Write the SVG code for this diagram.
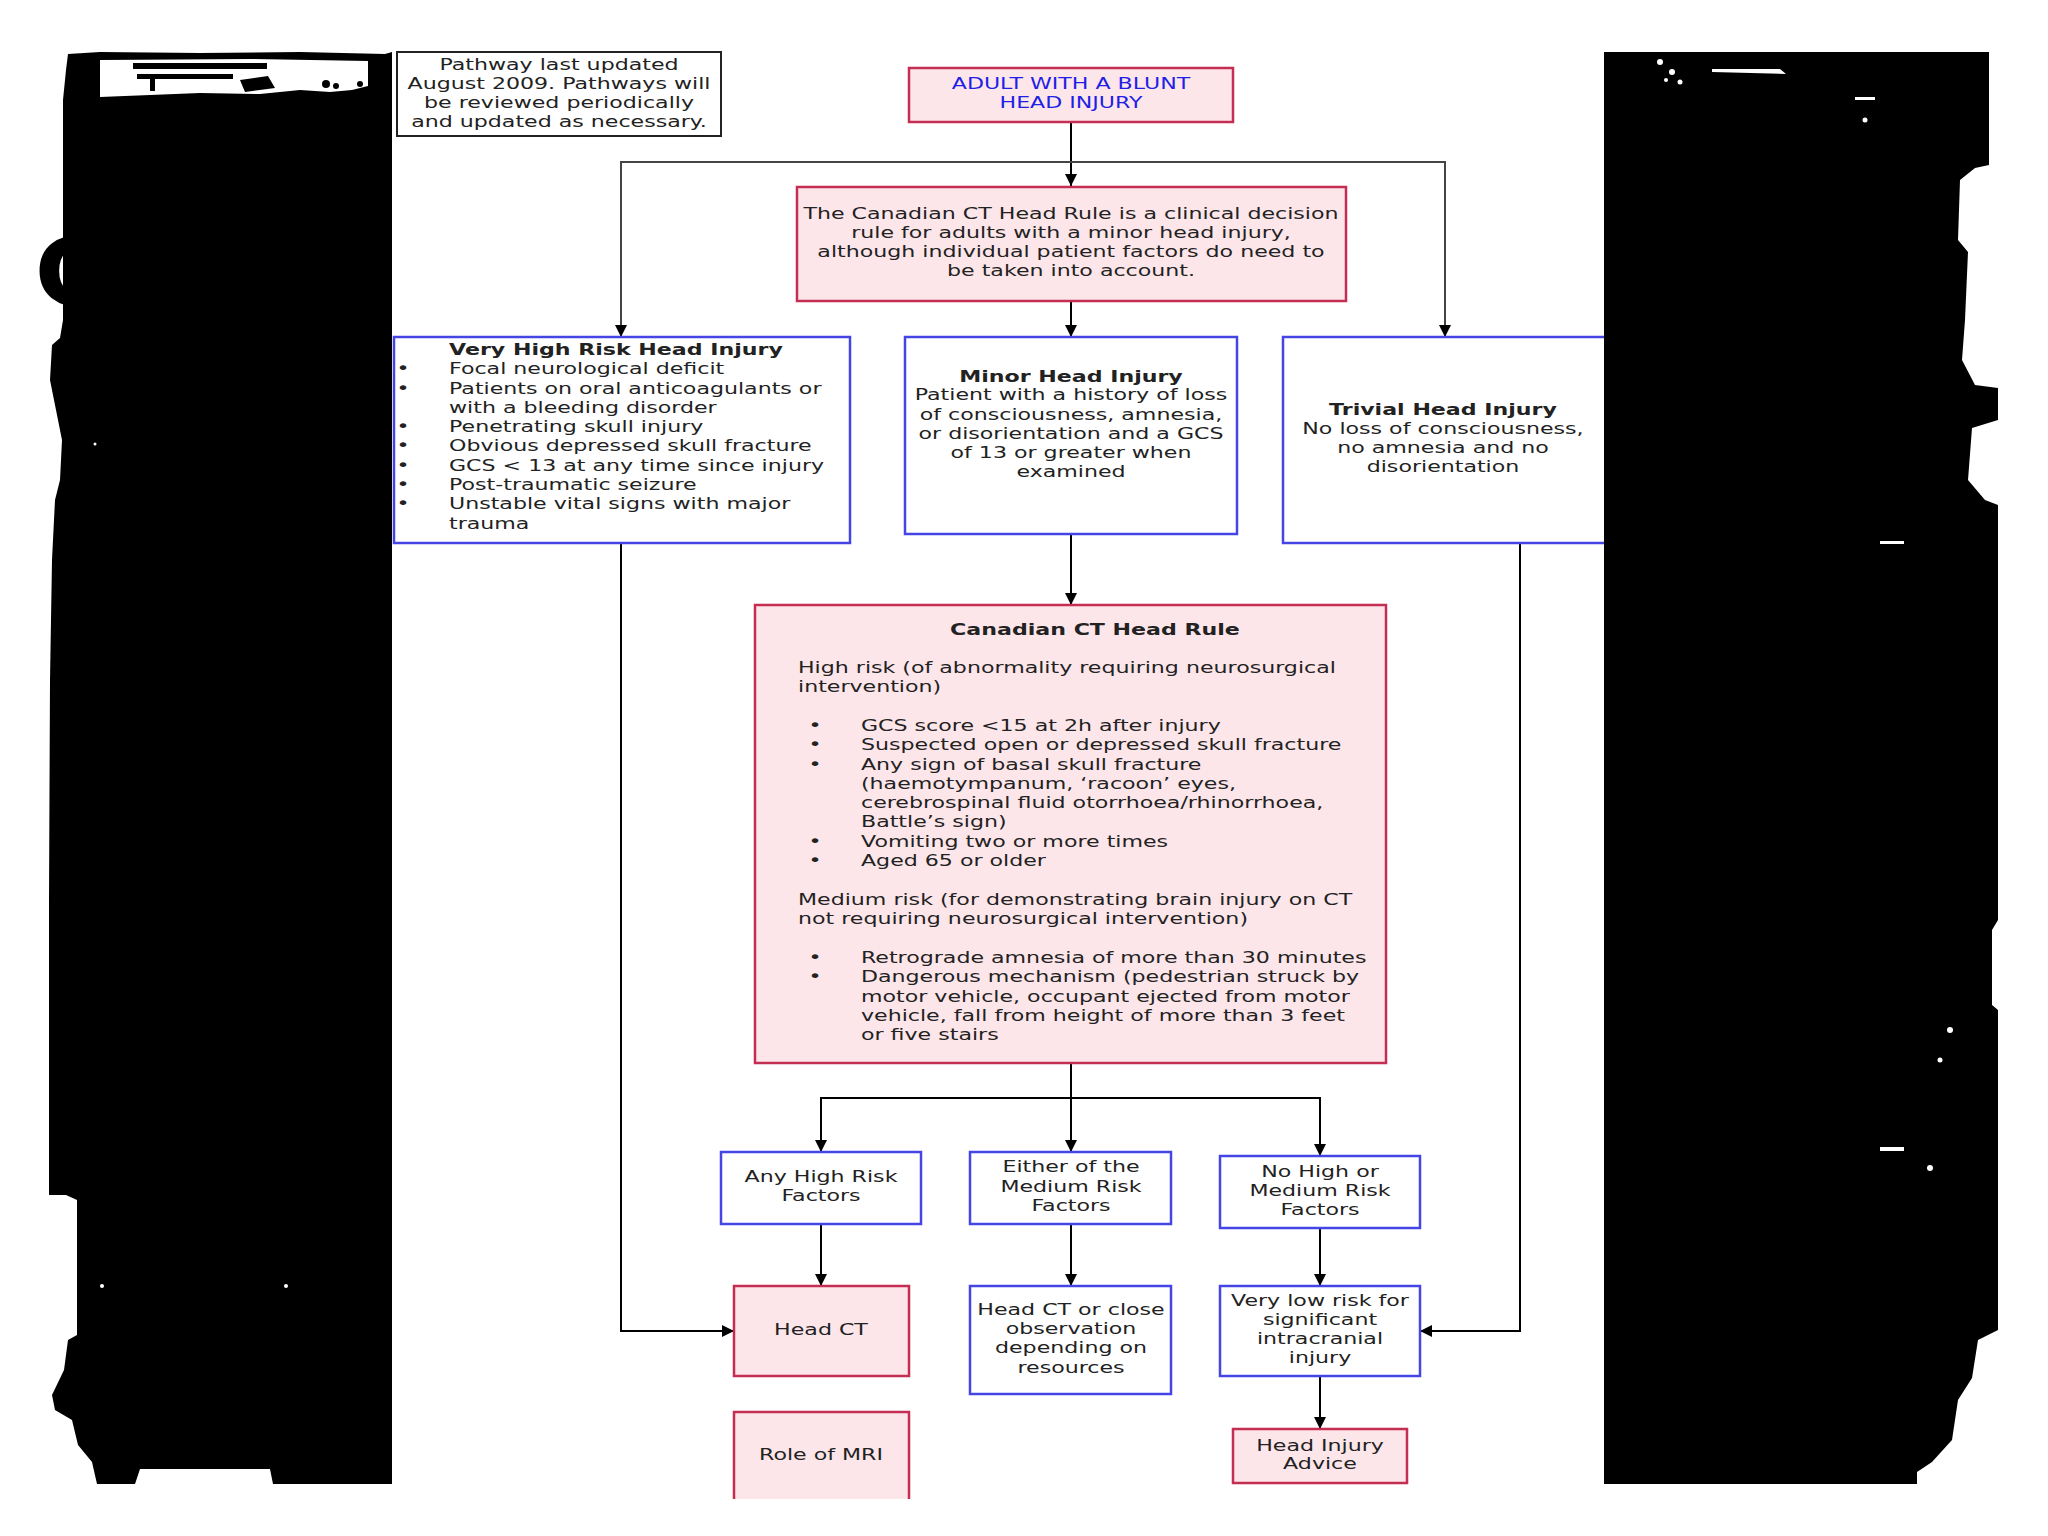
<svg xmlns="http://www.w3.org/2000/svg" width="2048" height="1536" viewBox="0 0 2048 1536">
<defs>
<style>
.t{font-family:"DejaVu Sans",Verdana,"Liberation Sans",sans-serif;font-size:16.5px;fill:#222}
.b{font-weight:bold}
.c{text-anchor:middle}
.blue{fill:#1f1fe6}
.pink{fill:#fde6ea;stroke:#c42e52;stroke-width:2.5}
.bx{fill:#ffffff;stroke:#4545e6;stroke-width:2.5}
.note{fill:#ffffff;stroke:#222;stroke-width:2}
.ln{fill:none;stroke:#000;stroke-width:2;marker-end:url(#ah)}
.grunge{fill:#000}
.spk{fill:#fff}
</style>
<marker id="ah" viewBox="0 0 10 10" refX="10" refY="5" markerWidth="12" markerHeight="12" markerUnits="userSpaceOnUse" orient="auto">
<path d="M0,0 L10,5 L0,10 z" fill="#000"/>
</marker>
</defs>
<rect width="2048" height="1536" fill="#ffffff"/>

<text x="34" y="307" font-family="Liberation Sans,Arial,sans-serif" font-weight="bold" font-size="104" fill="#000" transform="matrix(1.3 0 0 1 -10.2 0)">C</text>

<g id="connectors">
<path class="ln" d="M1071,122 V186"/>
<path class="ln" style="stroke:#444" d="M1071,162 H621 V337"/>
<path class="ln" style="stroke:#444" d="M1071,162 H1445 V337"/>
<path class="ln" d="M1071,301 V337"/>
<path class="ln" d="M1071,534 V605"/>
<path class="ln" d="M621,543 V1331 H734"/>
<path class="ln" d="M1520,543 V1331 H1420"/>
<path class="ln" d="M1071,1063 V1152"/>
<path class="ln" d="M1071,1098 H821 V1152"/>
<path class="ln" d="M1071,1098 H1320 V1156"/>
<path class="ln" d="M821,1224 V1286"/>
<path class="ln" d="M1071,1224 V1286"/>
<path class="ln" d="M1320,1228 V1286"/>
<path class="ln" d="M1320,1376 V1429"/>
</g>

<g id="note">
<rect class="note" x="397" y="52" width="324" height="84"/>
<g transform="matrix(1.34 0 0 1 -190.06 0)">
<text class="t c" x="559" y="70">Pathway last updated</text>
<text class="t c" x="559" y="89">August 2009. Pathways will</text>
<text class="t c" x="559" y="108">be reviewed periodically</text>
<text class="t c" x="559" y="127">and updated as necessary.</text>
</g>
</g>

<g id="adult">
<rect class="pink" x="909" y="68" width="324" height="54"/>
<g transform="matrix(1.34 0 0 1 -364.14 0)">
<text class="t c blue" x="1071" y="89">ADULT WITH A BLUNT</text>
<text class="t c blue" x="1071" y="108">HEAD INJURY</text>
</g>
</g>

<g id="intro">
<rect class="pink" x="797" y="187" width="549" height="114"/>
<g transform="matrix(1.34 0 0 1 -364.14 0)">
<text class="t c" x="1071" y="219">The Canadian CT Head Rule is a clinical decision</text>
<text class="t c" x="1071" y="238">rule for adults with a minor head injury,</text>
<text class="t c" x="1071" y="257">although individual patient factors do need to</text>
<text class="t c" x="1071" y="276">be taken into account.</text>
</g>
</g>

<g id="very-high-risk">
<rect class="bx" x="394" y="337" width="456" height="206"/>
<g transform="matrix(1.34 0 0 1 -152.66 0)">
<text class="t b" x="449" y="355">Very High Risk Head Injury</text>
<text class="t" x="449" y="374.3">Focal neurological deficit</text>
<text class="t" x="449" y="393.6">Patients on oral anticoagulants or</text>
<text class="t" x="449" y="412.9">with a bleeding disorder</text>
<text class="t" x="449" y="432.2">Penetrating skull injury</text>
<text class="t" x="449" y="451.5">Obvious depressed skull fracture</text>
<text class="t" x="449" y="470.8">GCS &lt; 13 at any time since injury</text>
<text class="t" x="449" y="490.1">Post-traumatic seizure</text>
<text class="t" x="449" y="509.4">Unstable vital signs with major</text>
<text class="t" x="449" y="528.7">trauma</text>
</g>
<g transform="matrix(1.34 0 0 1 -137.02 0)">
<text class="t c" x="403" y="374.3">•</text>
<text class="t c" x="403" y="393.6">•</text>
<text class="t c" x="403" y="432.2">•</text>
<text class="t c" x="403" y="451.5">•</text>
<text class="t c" x="403" y="470.8">•</text>
<text class="t c" x="403" y="490.1">•</text>
<text class="t c" x="403" y="509.4">•</text>
</g>
</g>

<g id="minor">
<rect class="bx" x="905" y="337" width="332" height="197"/>
<g transform="matrix(1.34 0 0 1 -364.14 0)">
<text class="t c b" x="1071" y="382">Minor Head Injury</text>
<text class="t c" x="1071" y="400.5">Patient with a history of loss</text>
<text class="t c" x="1071" y="419.7">of consciousness, amnesia,</text>
<text class="t c" x="1071" y="439">or disorientation and a GCS</text>
<text class="t c" x="1071" y="458">of 13 or greater when</text>
<text class="t c" x="1071" y="477">examined</text>
</g>
</g>

<g id="trivial">
<rect class="bx" x="1283" y="337" width="340" height="206"/>
<g transform="matrix(1.34 0 0 1 -490.62 0)">
<text class="t c b" x="1443" y="415">Trivial Head Injury</text>
<text class="t c" x="1443" y="434">No loss of consciousness,</text>
<text class="t c" x="1443" y="453">no amnesia and no</text>
<text class="t c" x="1443" y="472">disorientation</text>
</g>
</g>

<g id="ct-head-rule">
<rect class="pink" x="755" y="605" width="631" height="458"/>
<g transform="matrix(1.34 0 0 1 -372.3 0)">
<text class="t c b" x="1095" y="635">Canadian CT Head Rule</text>
</g>
<g transform="matrix(1.34 0 0 1 -271.32 0)">
<text class="t" x="798" y="673">High risk (of abnormality requiring neurosurgical</text>
<text class="t" x="798" y="692">intervention)</text>
<text class="t" x="798" y="905">Medium risk (for demonstrating brain injury on CT</text>
<text class="t" x="798" y="924">not requiring neurosurgical intervention)</text>
</g>
<g transform="matrix(1.34 0 0 1 -277.1 0)">
<text class="t c" x="815" y="731">•</text>
<text class="t c" x="815" y="750">•</text>
<text class="t c" x="815" y="770">•</text>
<text class="t c" x="815" y="847">•</text>
<text class="t c" x="815" y="866">•</text>
<text class="t c" x="815" y="963">•</text>
<text class="t c" x="815" y="982">•</text>
</g>
<g transform="matrix(1.34 0 0 1 -292.74 0)">
<text class="t" x="861" y="731">GCS score &lt;15 at 2h after injury</text>
<text class="t" x="861" y="750">Suspected open or depressed skull fracture</text>
<text class="t" x="861" y="770">Any sign of basal skull fracture</text>
<text class="t" x="861" y="789">(haemotympanum, ‘racoon’ eyes,</text>
<text class="t" x="861" y="808">cerebrospinal fluid otorrhoea/rhinorrhoea,</text>
<text class="t" x="861" y="827">Battle’s sign)</text>
<text class="t" x="861" y="847">Vomiting two or more times</text>
<text class="t" x="861" y="866">Aged 65 or older</text>
<text class="t" x="861" y="963">Retrograde amnesia of more than 30 minutes</text>
<text class="t" x="861" y="982">Dangerous mechanism (pedestrian struck by</text>
<text class="t" x="861" y="1002">motor vehicle, occupant ejected from motor</text>
<text class="t" x="861" y="1021">vehicle, fall from height of more than 3 feet</text>
<text class="t" x="861" y="1040">or five stairs</text>
</g>
</g>

<g id="any-high-risk">
<rect class="bx" x="721" y="1152" width="200" height="72"/>
<g transform="matrix(1.34 0 0 1 -279.14 0)">
<text class="t c" x="821" y="1182">Any High Risk</text>
<text class="t c" x="821" y="1201">Factors</text>
</g>
</g>

<g id="either-medium">
<rect class="bx" x="970" y="1152" width="201" height="72"/>
<g transform="matrix(1.34 0 0 1 -364.14 0)">
<text class="t c" x="1071" y="1172">Either of the</text>
<text class="t c" x="1071" y="1192">Medium Risk</text>
<text class="t c" x="1071" y="1211">Factors</text>
</g>
</g>

<g id="no-risk">
<rect class="bx" x="1220" y="1156" width="200" height="72"/>
<g transform="matrix(1.34 0 0 1 -448.8 0)">
<text class="t c" x="1320" y="1177">No High or</text>
<text class="t c" x="1320" y="1196">Medium Risk</text>
<text class="t c" x="1320" y="1215">Factors</text>
</g>
</g>

<g id="head-ct">
<rect class="pink" x="734" y="1286" width="175" height="90"/>
<g transform="matrix(1.34 0 0 1 -279.14 0)">
<text class="t c" x="821" y="1335">Head CT</text>
</g>
</g>

<g id="ct-or-observation">
<rect class="bx" x="970" y="1286" width="201" height="108"/>
<g transform="matrix(1.34 0 0 1 -364.14 0)">
<text class="t c" x="1071" y="1315">Head CT or close</text>
<text class="t c" x="1071" y="1334">observation</text>
<text class="t c" x="1071" y="1353">depending on</text>
<text class="t c" x="1071" y="1373">resources</text>
</g>
</g>

<g id="very-low-risk">
<rect class="bx" x="1220" y="1286" width="200" height="90"/>
<g transform="matrix(1.34 0 0 1 -448.8 0)">
<text class="t c" x="1320" y="1306">Very low risk for</text>
<text class="t c" x="1320" y="1325">significant</text>
<text class="t c" x="1320" y="1344">intracranial</text>
<text class="t c" x="1320" y="1363">injury</text>
</g>
</g>

<g id="advice">
<rect class="pink" x="1233" y="1429" width="174" height="54"/>
<g transform="matrix(1.34 0 0 1 -448.8 0)">
<text class="t c" x="1320" y="1451">Head Injury</text>
<text class="t c" x="1320" y="1469">Advice</text>
</g>
</g>

<g id="mri">
<rect x="734" y="1412" width="175" height="87" fill="#fde6ea"/>
<path d="M734,1499 V1412 H909 V1499" fill="none" stroke="#c42e52" stroke-width="2.5"/>
<g transform="matrix(1.34 0 0 1 -279.14 0)">
<text class="t c" x="821" y="1460">Role of MRI</text>
</g>
</g>

<g id="left-panel">
<path class="grunge" d="M68,54 L100,52 L200,53 L300,52 L385,54 L392,52 L392,1484 L273,1484 L270,1469 L140,1469 L135,1484 L97,1484 L92,1462 L78,1445 L72,1420 L55,1410 L52,1395 L64,1370 L68,1340 L77,1335 L77,1200 L66,1195 L49,1195 L49,900 L50,680 L52,560 L55,500 L60,480 L62,440 L58,420 L50,380 L52,345 L60,338 L63,320 L63,100 L66,70 Z"/>
<path class="spk" d="M100,60 L250,59 L368,61 L368,86 L352,90 L330,92 L300,90 L260,94 L200,93 L150,95 L100,97 Z"/>
<rect class="grunge" x="133" y="63" width="134" height="6"/>
<rect class="grunge" x="137" y="74" width="96" height="5"/>
<rect class="grunge" x="150" y="79" width="5" height="12"/>
<path class="grunge" d="M240,80 L268,76 L275,88 L245,92 Z"/>
<circle class="grunge" cx="326" cy="84" r="4"/>
<circle class="grunge" cx="336" cy="86" r="3"/>
<circle class="grunge" cx="360" cy="84" r="3"/>
<circle class="spk" cx="102" cy="1286" r="2"/>
<circle class="spk" cx="286" cy="1286" r="2"/>
<circle class="spk" cx="95" cy="444" r="1.5"/>
</g>

<g id="right-panel">
<path class="grunge" d="M1604,52 L1989,52 L1989,165 L1975,168 L1960,180 L1958,240 L1968,252 L1965,320 L1962,360 L1975,385 L1998,388 L1998,420 L1972,428 L1968,480 L1985,500 L1998,505 L1998,920 L1992,930 L1992,1005 L1998,1010 L1998,1330 L1978,1340 L1972,1378 L1958,1400 L1952,1440 L1932,1462 L1917,1472 L1917,1484 L1604,1484 Z"/>
<path class="spk" d="M1712,69 L1780,69 L1786,74 L1712,72 Z"/>
<circle class="spk" cx="1660" cy="62" r="3"/>
<circle class="spk" cx="1672" cy="72" r="3"/>
<circle class="spk" cx="1680" cy="82" r="2.5"/>
<circle class="spk" cx="1666" cy="80" r="2"/>
<rect class="spk" x="1855" y="97" width="20" height="3"/>
<circle class="spk" cx="1865" cy="120" r="2.5"/>
<rect class="spk" x="1880" y="541" width="24" height="3"/>
<rect class="spk" x="1880" y="1147" width="24" height="4"/>
<circle class="spk" cx="1950" cy="1030" r="3"/>
<circle class="spk" cx="1940" cy="1060" r="2.5"/>
<circle class="spk" cx="1930" cy="1168" r="3"/>
</g>
</svg>
